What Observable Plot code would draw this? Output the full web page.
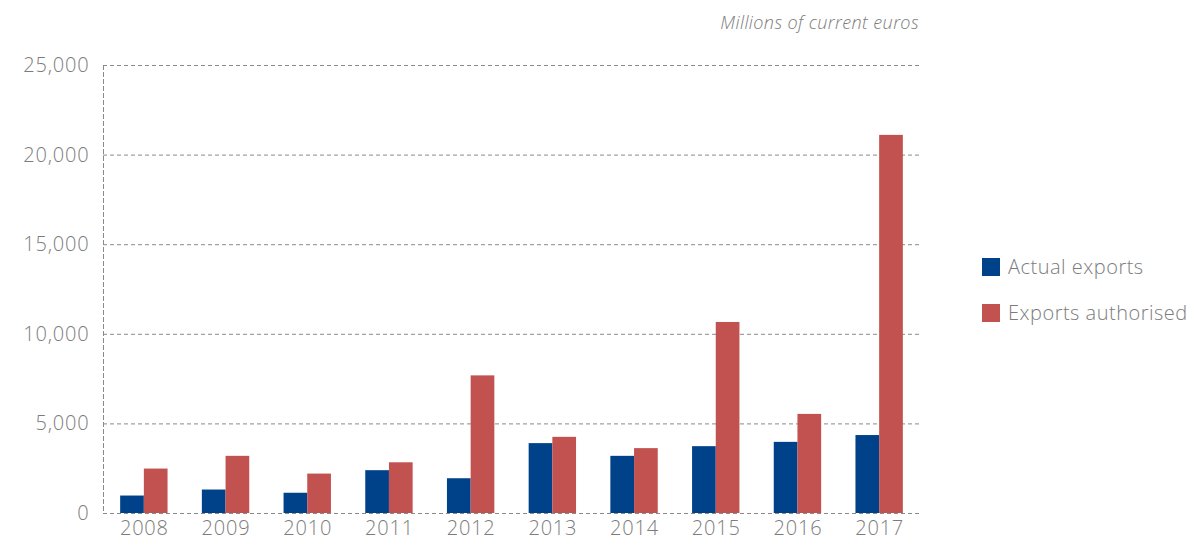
<!DOCTYPE html>
<html>
<head>
<meta charset="utf-8">
<script src="https://cdn.jsdelivr.net/npm/d3@7"></script>
<script src="https://cdn.jsdelivr.net/npm/@observablehq/plot@0.6"></script>
<style>
  html, body { margin: 0; padding: 0; background: #fff; }
  #wrap { position: relative; width: 1192px; height: 541px; font-family: "Open Sans", sans-serif; font-weight: 300; }
  #title { position: absolute; right: 273px; top: 10px; font-style: italic; font-size: 18px; letter-spacing: 0.4px; color: #7c7c7c; }
  #legend { position: absolute; left: 982px; top: 253px; font-size: 20px; letter-spacing: 0.5px; color: #7c7c7c; white-space: nowrap; }
  .item { display: flex; align-items: center; height: 27px; margin-bottom: 19px; }
  .sw { width: 18px; height: 18px; margin-right: 8px; }
</style>
</head>
<body>
<div id="wrap">
  <div id="title">Millions of current euros</div>
  <div id="legend"></div>
</div>
<script>
const years = ["2008","2009","2010","2011","2012","2013","2014","2015","2016","2017"];
const actualExports = [975, 1310, 1130, 2390, 1940, 3900, 3190, 3730, 3970, 4350];
const exportsAuthorised = [2480, 3190, 2200, 2830, 7680, 4250, 3620, 10660, 5530, 21100];
const seriesNames = ["Actual exports", "Exports authorised"];
const seriesColors = ["#00428a", "#c1524f"];
const yTicks = [0, 5000, 10000, 15000, 20000, 25000];

const data = years.map((y, i) => ({year: y, actual: actualExports[i], authorised: exportsAuthorised[i]}));

const width = 1192, height = 541;
const marginLeft = 103, marginRight = 272;
const band = (width - marginLeft - marginRight) / years.length;
const barW = band * 0.29;
const gap = (band - 2 * barW) / 2;

const chart = Plot.plot({
  width, height,
  marginLeft, marginRight,
  marginTop: 65, marginBottom: 28,
  style: {fontFamily: "'Open Sans', sans-serif", fontWeight: 300, fontSize: "20px", letterSpacing: "0.8px", color: "#7c7c7c", background: "transparent"},
  x: {domain: years, padding: 0, round: false, label: null, tickSize: 0, tickPadding: 7},
  y: {domain: [0, 25000], ticks: yTicks, tickFormat: d3.format(","), label: null, tickSize: 0, tickPadding: 14},
  marks: [
    Plot.ruleY(yTicks, {stroke: "#8a8a8a", strokeDasharray: "4,3", strokeWidth: 1}),
    Plot.frame({anchor: "left", stroke: "#8a8a8a", strokeDasharray: "4,3"}),
    Plot.barY(data, {x: "year", y: "actual", fill: seriesColors[0], insetLeft: gap, insetRight: band - gap - barW}),
    Plot.barY(data, {x: "year", y: "authorised", fill: seriesColors[1], insetLeft: gap + barW, insetRight: gap})
  ]
});
document.getElementById("wrap").appendChild(chart);
chart.style.position = "absolute";
chart.style.left = "0";
chart.style.top = "0";

const legend = document.getElementById("legend");
seriesNames.forEach((n, i) => {
  const it = document.createElement("div");
  it.className = "item";
  it.innerHTML = `<div class="sw" style="background:${seriesColors[i]}"></div><span>${n}</span>`;
  legend.appendChild(it);
});
</script>
</body>
</html>
